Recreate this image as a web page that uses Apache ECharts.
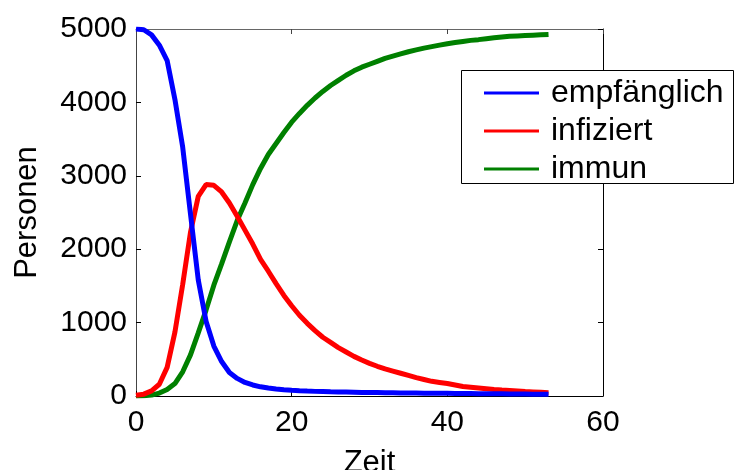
<!DOCTYPE html>
<html>
<head>
<meta charset="utf-8">
<script src="https://cdn.jsdelivr.net/npm/echarts@6/dist/echarts.min.js"></script>
<style>
html,body{margin:0;padding:0;background:#fff;}
#c{width:734px;height:470px;}
</style>
</head>
<body>
<div id="c"></div>
<script>
// Time steps
var zeit = [0,1,2,3,4,5,6,7,8,9,10,11,12,13,14,15,16,17,18,19,20,21,22,23,24,25,26,27,28,29,30,31,32,33,34,35,36,37,38,39,40,41,42,43,44,45,46,47,48,49,50,51,52,53];
// empfänglich (susceptible)
var empfaenglich = [5000,4990,4920,4780,4570,4040,3390,2480,1580,1020,680,470,320,240,185,150,125,108,95,85,78,72,67,63,60,57,55,53,51,49,47,46,44,43,42,41,40,39,38,37,36,35,34,33,32,31,30,29,28,27,26,25,24,23];
// infiziert (infected)
var infiziert = [10,25,70,160,390,870,1520,2230,2720,2880,2870,2780,2630,2450,2260,2070,1860,1700,1530,1370,1230,1100,990,890,800,730,660,600,540,490,445,405,370,340,310,280,250,225,200,185,170,150,130,120,110,100,90,82,75,68,60,55,50,45];
// immun (recovered)
var immun = [0,3,12,40,90,170,330,560,860,1170,1510,1800,2100,2390,2630,2880,3100,3290,3440,3590,3730,3850,3960,4060,4150,4230,4300,4370,4430,4480,4520,4560,4600,4630,4660,4690,4715,4740,4760,4780,4800,4815,4830,4845,4855,4868,4880,4890,4900,4905,4910,4915,4920,4925];

var seriesNames = ['empfänglich','infiziert','immun'];
var seriesColors = ['#0000ff','#ff0000','#008000'];
var seriesValues = [empfaenglich, infiziert, immun];

function pairs(v){ return zeit.map(function(t,i){ return [t, v[i]]; }); }
function plain(v){ return String(v); }

var FONT = '"Liberation Sans", Arial, sans-serif';
var chart = echarts.init(document.getElementById('c'), null, {renderer:'canvas'});
chart.setOption({
  animation:false,
  backgroundColor:'#fff',
  grid:{left:136, top:29, right:131, bottom:74, containLabel:false, outerBoundsMode:'none'},
  graphic:[{
    type:'rect', left:461, top:70, z:100,
    shape:{width:272, height:113},
    style:{fill:'#fff', stroke:'#000', lineWidth:1}
  }],
  legend:{
    orient:'vertical', left:479, top:72, z:101,
    itemWidth:55, itemHeight:3, itemGap:6,
    icon:'rect',
    textStyle:{fontFamily:FONT, fontSize:32, color:'#000', padding:[0,0,0,7], lineHeight:30},
    data:seriesNames
  },
  xAxis:[{
    type:'value', min:0, max:60, interval:20, position:'bottom',
    name:'Zeit', nameLocation:'middle', nameGap:52,
    nameTextStyle:{fontFamily:FONT, fontSize:31, color:'#000'},
    axisLine:{show:true, onZero:false, lineStyle:{color:'#000', width:1}},
    axisTick:{show:true, inside:true, length:5, lineStyle:{color:'#000'}},
    axisLabel:{fontFamily:FONT, fontSize:30, color:'#000', margin:12, formatter:plain},
    splitLine:{show:false}
  },{
    type:'value', min:0, max:60, interval:20, position:'top',
    axisLine:{show:true, onZero:false, lineStyle:{color:'#666', width:1}},
    axisTick:{show:true, inside:true, length:5, lineStyle:{color:'#444'}},
    axisLabel:{show:false}, splitLine:{show:false}
  }],
  yAxis:[{
    type:'value', min:0, max:5000, interval:1000, position:'left',
    name:'Personen', nameLocation:'middle', nameGap:93,
    nameTextStyle:{fontFamily:FONT, fontSize:31, color:'#000'},
    axisLine:{show:true, onZero:false, lineStyle:{color:'#444', width:1}},
    axisTick:{show:true, inside:true, length:5, lineStyle:{color:'#000'}},
    axisLabel:{fontFamily:FONT, fontSize:30, color:'#000', margin:9, formatter:plain},
    splitLine:{show:false}
  },{
    type:'value', min:0, max:5000, interval:1000, position:'right',
    axisLine:{show:true, onZero:false, lineStyle:{color:'#000', width:1}},
    axisTick:{show:true, inside:true, length:5, lineStyle:{color:'#000'}},
    axisLabel:{show:false}, splitLine:{show:false}
  }],
  series: seriesNames.map(function(n,k){
    return {
      name:n, type:'line', xAxisIndex:0, yAxisIndex:0,
      data:pairs(seriesValues[k]),
      showSymbol:false, symbol:'none',
      color:seriesColors[k],
      lineStyle:{color:seriesColors[k], width:5},
      itemStyle:{color:seriesColors[k]},
      z:3-k+2
    };
  })
});
</script>
</body>
</html>
